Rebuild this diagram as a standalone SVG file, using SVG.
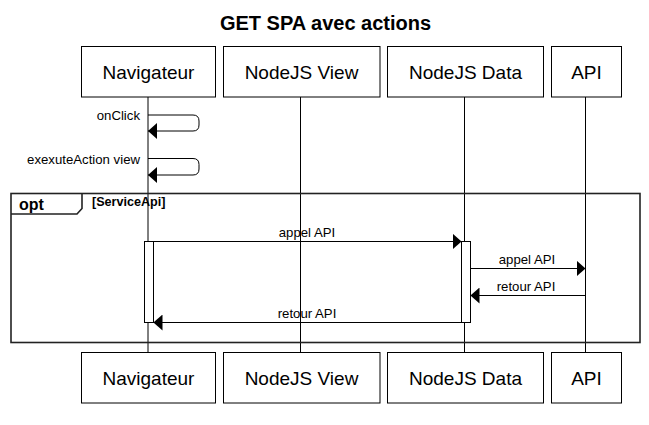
<svg xmlns="http://www.w3.org/2000/svg" width="649" height="425" viewBox="0 0 649 425">
<defs>
<style>
text{font-family:"Liberation Sans",Arial,sans-serif;fill:#000}
.box{fill:#fff;stroke:#000;stroke-width:1}
.pl{font-size:19px;text-anchor:middle}
.life{stroke:#000;stroke-width:1}
.msg{stroke:#000;stroke-width:1;fill:none}
.ml{font-size:13.2px}
.act{fill:#fff;stroke:#000;stroke-width:1}
.frame{fill:none;stroke:#222;stroke-width:1.6}
</style>
<marker id="ah" viewBox="0 0 9 16" refX="9" refY="8" markerWidth="9" markerHeight="16" markerUnits="userSpaceOnUse" orient="auto">
<path d="M0,0 L9,8 L0,16 Z" fill="#000"/>
</marker>
</defs>
<rect width="649" height="425" fill="#fff"/>
<text x="325.5" y="29.5" font-size="20" font-weight="bold" text-anchor="middle">GET SPA avec actions</text>

<g id="lifelines">
<line class="life" x1="148" y1="97" x2="148" y2="352"/>
<line class="life" x1="300.5" y1="97" x2="300.5" y2="352"/>
<line class="life" x1="464.5" y1="97" x2="464.5" y2="352"/>
<line class="life" x1="585.5" y1="97" x2="585.5" y2="352"/>
</g>

<g id="opt-frame">
<rect class="frame" x="11" y="193.5" width="629" height="149"/>
<path class="frame" d="M11,214 H77 L82,208.5 V193.5"/>
<text x="19" y="210" font-size="16" font-weight="bold">opt</text>
<text x="92" y="206" font-size="12.6" font-weight="bold">[ServiceApi]</text>
</g>

<g id="activations">
<rect class="act" x="144.5" y="241.5" width="9" height="81"/>
<rect class="act" x="461.5" y="241.5" width="9" height="81"/>
</g>

<g id="connectors">
<path class="msg" d="M148,115 H193 Q199,115 199,121 V125 Q199,131 193,131 H148" marker-end="url(#ah)"/>
<text class="ml" x="140" y="120" text-anchor="end">onClick</text>
<path class="msg" d="M148,158.5 H193 Q199,158.5 199,164.5 V169 Q199,175 193,175 H148" marker-end="url(#ah)"/>
<text class="ml" x="140" y="163.5" text-anchor="end">exexuteAction view</text>

<line class="msg" x1="153.5" y1="241.5" x2="461.5" y2="241.5" marker-end="url(#ah)"/>
<text class="ml" x="307" y="237" text-anchor="middle">appel API</text>
<line class="msg" x1="470.5" y1="268.5" x2="585.5" y2="268.5" marker-end="url(#ah)"/>
<text class="ml" x="527" y="264" text-anchor="middle">appel API</text>
<line class="msg" x1="585.5" y1="295.5" x2="470.5" y2="295.5" marker-end="url(#ah)"/>
<text class="ml" x="526" y="291" text-anchor="middle">retour API</text>
<line class="msg" x1="461.5" y1="322.5" x2="153.5" y2="322.5" marker-end="url(#ah)"/>
<text class="ml" x="307" y="318" text-anchor="middle">retour API</text>
</g>

<g id="navigateur-top"><rect class="box" x="81.5" y="46.5" width="134" height="50.5"/><text class="pl" x="148.5" y="78.5">Navigateur</text></g>
<g id="nodejs-view-top"><rect class="box" x="223.5" y="46.5" width="156.5" height="50.5"/><text class="pl" x="301.5" y="78.5">NodeJS View</text></g>
<g id="nodejs-data-top"><rect class="box" x="387.5" y="46.5" width="156" height="50.5"/><text class="pl" x="465.5" y="78.5">NodeJS Data</text></g>
<g id="api-top"><rect class="box" x="551.5" y="46.5" width="70" height="50.5"/><text class="pl" x="586.5" y="78.5">API</text></g>

<g id="navigateur-bottom"><rect class="box" x="81.5" y="352.5" width="134" height="50.5"/><text class="pl" x="148.5" y="384.5">Navigateur</text></g>
<g id="nodejs-view-bottom"><rect class="box" x="223.5" y="352.5" width="156.5" height="50.5"/><text class="pl" x="301.5" y="384.5">NodeJS View</text></g>
<g id="nodejs-data-bottom"><rect class="box" x="387.5" y="352.5" width="156" height="50.5"/><text class="pl" x="465.5" y="384.5">NodeJS Data</text></g>
<g id="api-bottom"><rect class="box" x="551.5" y="352.5" width="70" height="50.5"/><text class="pl" x="586.5" y="384.5">API</text></g>
</svg>
